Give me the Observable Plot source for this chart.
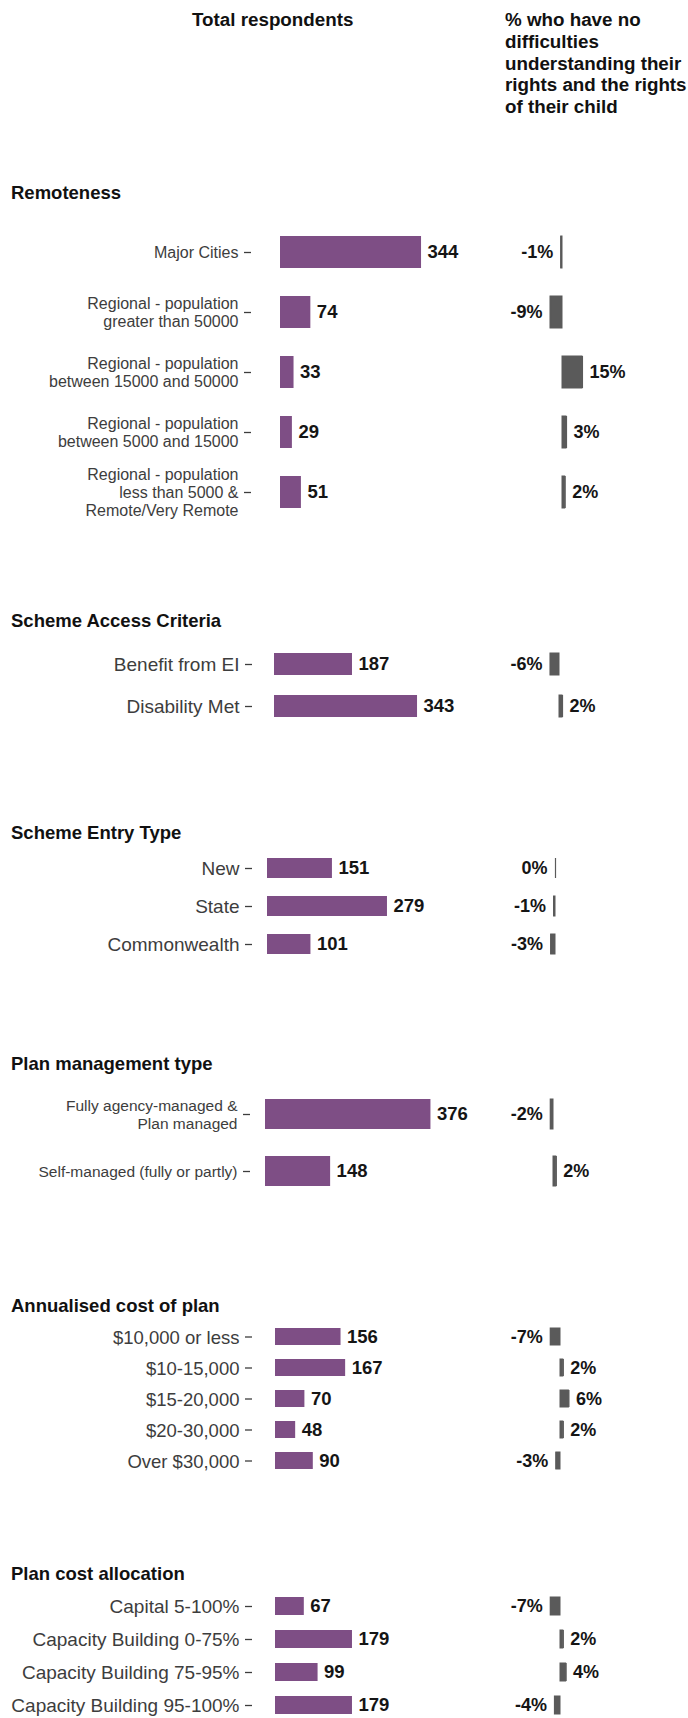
<!DOCTYPE html>
<html>
<head>
<meta charset="utf-8">
<script src="https://cdn.jsdelivr.net/npm/d3@7"></script>
<script src="https://cdn.jsdelivr.net/npm/@observablehq/plot@0.6"></script>
<style>
html, body { margin: 0; padding: 0; background: #fff; overflow: hidden; }
#root { position: relative; width: 688px; height: 1718px; overflow: hidden; font-family: "Liberation Sans", Arial, sans-serif; }
.hd { position: absolute; font-weight: bold; color: #111; white-space: nowrap; }
.plot-wrap { position: absolute; }
</style>
</head>
<body>
<div id="root"></div>
<script>
// ---------- DATA ----------
const headerLeft = "Total respondents";
const headerRight = ["% who have no", "difficulties", "understanding their", "rights and the rights", "of their child"];

const sectionTitles = ["Remoteness", "Scheme Access Criteria", "Scheme Entry Type", "Plan management type", "Annualised cost of plan", "Plan cost allocation"];

const remotenessCats = ["Major Cities", "Regional - population\ngreater than 50000", "Regional - population\nbetween 15000 and 50000", "Regional - population\nbetween 5000 and 15000", "Regional - population\nless than 5000 &\nRemote/Very Remote"];
const remotenessTotals = [344, 74, 33, 29, 51];
const remotenessPct = [-1, -9, 15, 3, 2];

const accessCats = ["Benefit from EI", "Disability Met"];
const accessTotals = [187, 343];
const accessPct = [-6, 2];

const entryCats = ["New", "State", "Commonwealth"];
const entryTotals = [151, 279, 101];
const entryPct = [0, -1, -3];

const mgmtCats = ["Fully agency-managed &\nPlan managed", "Self-managed (fully or partly)"];
const mgmtTotals = [376, 148];
const mgmtPct = [-2, 2];

const costCats = ["$10,000 or less", "$10-15,000", "$15-20,000", "$20-30,000", "Over $30,000"];
const costTotals = [156, 167, 70, 48, 90];
const costPct = [-7, 2, 6, 2, -3];

const allocCats = ["Capital 5-100%", "Capacity Building 0-75%", "Capacity Building 75-95%", "Capacity Building 95-100%"];
const allocTotals = [67, 179, 99, 179];
const allocPct = [-7, 2, 4, -4];

// ---------- LAYOUT (pixels / styles) ----------
const purple = "#7e4e85";
const gray = "#5a5a5a";
const font = "'Liberation Sans', Arial, sans-serif";

const layout = [
  {titleY: 193, firstY: 250,   step: 60.5, barH: 32,   x0: 280, k: 0.41,  tickEnd: 251, z: 562, k2: 1.33, labelSize: 16,   lh: 1.12},
  {titleY: 621, firstY: 663.5, step: 42.5, barH: 22,   x0: 274, k: 0.417, tickEnd: 252, z: 559, k2: 1.5,  labelSize: 19,   lh: 1.1},
  {titleY: 833, firstY: 867,   step: 38.5, barH: 20.5, x0: 267, k: 0.43,  tickEnd: 252, z: 555, k2: 1.46, labelSize: 19,   lh: 1.1},
  {titleY: 1064, firstY: 1114, step: 57,   barH: 30,   x0: 265, k: 0.44,  tickEnd: 250, z: 553, k2: 1.4,  labelSize: 15.5, lh: 1.15},
  {titleY: 1306, firstY: 1336, step: 31,   barH: 16.5, x0: 275, k: 0.42,  tickEnd: 252, z: 560, k2: 1.4,  labelSize: 18.5, lh: 1.1},
  {titleY: 1574, firstY: 1605, step: 33.8, barH: 18.5, x0: 275, k: 0.43,  tickEnd: 252, z: 560, k2: 1.4,  labelSize: 19,   lh: 1.1}
];

const sectionData = [
  [remotenessCats, remotenessTotals, remotenessPct],
  [accessCats, accessTotals, accessPct],
  [entryCats, entryTotals, entryPct],
  [mgmtCats, mgmtTotals, mgmtPct],
  [costCats, costTotals, costPct],
  [allocCats, allocTotals, allocPct]
];

const root = document.getElementById("root");

function addText(txt, left, centerY, size, lineH) {
  const d = document.createElement("div");
  d.className = "hd";
  d.textContent = txt;
  d.style.left = left + "px";
  d.style.top = (centerY - lineH / 2) + "px";
  d.style.fontSize = size + "px";
  d.style.lineHeight = lineH + "px";
  root.appendChild(d);
  return d;
}

// header
addText(headerLeft, 192, 20, 18.8, 22);
headerRight.forEach((t, i) => addText(t, 505, 20 + i * 21.8, 18.8, 22));

function place(node, left, top) {
  const w = document.createElement("div");
  w.className = "plot-wrap";
  w.style.left = left + "px";
  w.style.top = top + "px";
  w.appendChild(node);
  root.appendChild(w);
}

sectionData.forEach(([cats, totals, pcts], si) => {
  const cfg = layout[si];
  addText(sectionTitles[si], 11, cfg.titleY, 18.5, 22);

  const data = cats.map((c, i) => ({cat: c, n: totals[i], pct: pcts[i]}));
  const n = data.length;
  const p = 1 - cfg.barH / cfg.step;
  const mt = 40, mb = 40;
  const H = mt + mb + cfg.step * (n + p);
  const top = cfg.firstY - mt - cfg.step * (1 + p) / 2;

  // left: total respondents
  const WA = 480;
  const ML = cfg.tickEnd;
  const plotA = Plot.plot({
    width: WA, height: H,
    marginLeft: ML, marginRight: 0, marginTop: mt, marginBottom: mb,
    x: {domain: [-(cfg.x0 - ML) / cfg.k, (WA - cfg.x0) / cfg.k], axis: null},
    y: {domain: cats, padding: p, axis: null},
    style: {fontFamily: font, overflow: "visible", background: "transparent"},
    marks: [
      Plot.axisY({label: null, tickSize: 7, tickPadding: 6, fontSize: cfg.labelSize, lineHeight: cfg.lh, color: "#3d3d3d", strokeWidth: 1.3}),
      Plot.barX(data, {x: "n", y: "cat", fill: purple}),
      Plot.text(data, {x: "n", y: "cat", text: d => String(d.n), dx: 6, textAnchor: "start", fontWeight: "bold", fontSize: 18.5, fill: "#151515"})
    ]
  });
  place(plotA, 0, top);

  // right: % difference
  const LB = 470, WB = 218;
  const plotB = Plot.plot({
    width: WB, height: H,
    marginLeft: 0, marginRight: 0, marginTop: mt, marginBottom: mb,
    x: {domain: [-(cfg.z - LB) / cfg.k2, (LB + WB - cfg.z) / cfg.k2], axis: null},
    y: {domain: cats, padding: p, axis: null},
    style: {fontFamily: font, overflow: "visible", background: "transparent"},
    marks: [
      Plot.barX(data, {x: "pct", y: "cat", fill: gray, stroke: gray, strokeWidth: 1}),
      Plot.tickX(data, {x: "pct", y: "cat", stroke: gray, strokeWidth: 1.2}),
      Plot.text(data.filter(d => d.pct <= 0), {x: "pct", y: "cat", text: d => d.pct + "%", dx: -8, textAnchor: "end", fontWeight: "bold", fontSize: 18, fill: "#151515"}),
      Plot.text(data.filter(d => d.pct > 0), {x: "pct", y: "cat", text: d => d.pct + "%", dx: 7, textAnchor: "start", fontWeight: "bold", fontSize: 18, fill: "#151515"})
    ]
  });
  place(plotB, LB, top);
});
</script>
</body>
</html>
